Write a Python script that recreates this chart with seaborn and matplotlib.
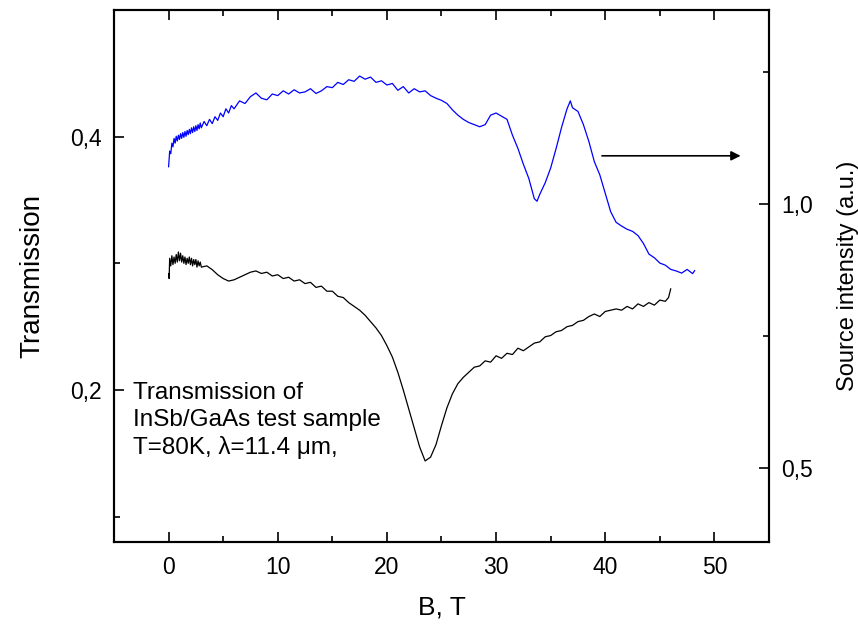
import numpy as np
import pandas as pd
import matplotlib
matplotlib.use("Agg")
import matplotlib.pyplot as plt
from matplotlib.ticker import FixedLocator, FuncFormatter
import seaborn as sns

# ---------------- data ----------------
# Transmission (left axis), black curve
b_trans = [0.0, 0.05, 0.1, 0.2, 0.3, 0.4, 0.5, 0.6, 0.7, 0.8, 0.9, 1.0, 1.1, 1.2, 1.3, 1.4,
           1.5, 1.6, 1.7, 1.8, 1.9, 2.0, 2.1, 2.2, 2.3, 2.4, 2.5, 2.6, 2.7, 2.8, 2.9, 3.0,
           3.5, 4.0, 4.5, 5.0, 5.5, 6.0, 6.5, 7.0, 7.5, 8.0, 8.5, 9.0, 9.5, 10.0, 10.5, 11.0,
           11.5, 12.0, 12.5, 13.0, 13.5, 14.0, 14.5, 15.0, 15.5, 16.0, 16.5, 17.0, 17.5, 18.0,
           18.5, 19.0, 19.5, 20.0, 20.5, 21.0, 21.5, 22.0, 22.5, 23.0, 23.5, 24.0, 24.5, 25.0,
           25.5, 26.0, 26.5, 27.0, 27.5, 28.0, 28.5, 29.0, 29.5, 30.0, 30.5, 31.0, 31.5, 32.0,
           32.5, 33.0, 33.5, 34.0, 34.5, 35.0, 35.5, 36.0, 36.5, 37.0, 37.5, 38.0, 38.5, 39.0,
           39.5, 40.0, 40.5, 41.0, 41.5, 42.0, 42.5, 43.0, 43.5, 44.0, 44.5, 45.0, 45.5, 45.8, 46.0]
transmission = [0.292, 0.288, 0.304, 0.298, 0.306, 0.299, 0.305, 0.300, 0.307, 0.301, 0.309, 0.302,
                0.308, 0.301, 0.306, 0.300, 0.305, 0.299, 0.304, 0.300, 0.305, 0.299, 0.304, 0.298,
                0.303, 0.299, 0.303, 0.297, 0.302, 0.298, 0.301, 0.297,
                0.298, 0.295, 0.291, 0.288, 0.286, 0.287, 0.289, 0.291, 0.293, 0.294, 0.292, 0.293,
                0.290, 0.291, 0.288, 0.289, 0.286, 0.287, 0.284, 0.285, 0.281, 0.282, 0.278, 0.278,
                0.274, 0.273, 0.269, 0.266, 0.263, 0.259, 0.254, 0.249, 0.243, 0.235, 0.226, 0.214,
                0.200, 0.185, 0.170, 0.155, 0.144, 0.147, 0.157, 0.172, 0.186, 0.197, 0.205, 0.210,
                0.214, 0.218, 0.219, 0.223, 0.222, 0.227, 0.225, 0.229, 0.228, 0.233, 0.231, 0.234,
                0.237, 0.238, 0.242, 0.243, 0.246, 0.247, 0.250, 0.251, 0.254, 0.255, 0.258, 0.260,
                0.258, 0.262, 0.263, 0.264, 0.263, 0.266, 0.264, 0.268, 0.266, 0.269, 0.267, 0.271,
                0.270, 0.273, 0.280]

# Source intensity (right axis), blue curve
b_source = [0.0, 0.05, 0.1, 0.2, 0.3, 0.4, 0.5, 0.6, 0.7, 0.8, 0.9, 1.0, 1.1, 1.2, 1.3, 1.4,
            1.5, 1.6, 1.7, 1.8, 1.9, 2.0, 2.1, 2.2, 2.3, 2.4, 2.5, 2.6, 2.7, 2.8, 2.9, 3.0,
            3.25, 3.5, 3.75, 4.0, 4.25, 4.5, 4.75, 5.0, 5.25, 5.5, 5.75, 6.0, 6.5, 7.0, 7.5,
            8.0, 8.5, 9.0, 9.5, 10.0, 10.5, 11.0, 11.5, 12.0, 12.5, 13.0, 13.5, 14.0, 14.5,
            15.0, 15.5, 16.0, 16.5, 17.0, 17.5, 18.0, 18.5, 19.0, 19.5, 20.0, 20.5, 21.0, 21.5,
            22.0, 22.5, 23.0, 23.5, 24.0, 24.5, 25.0, 25.5, 26.0, 26.5, 27.0, 27.5, 28.0, 28.5,
            29.0, 29.5, 30.0, 30.5, 31.0, 31.5, 32.0, 32.5, 33.0, 33.5, 33.75, 34.0, 34.5, 35.0,
            35.5, 36.0, 36.5, 36.8, 37.0, 37.5, 38.0, 38.5, 39.0, 39.5, 40.0, 40.5, 41.0, 41.5,
            42.0, 42.5, 43.0, 43.5, 44.0, 44.5, 45.0, 45.5, 46.0, 46.5, 47.0, 47.5, 48.0, 48.2]
source = [1.070, 1.085, 1.100, 1.095, 1.115, 1.108, 1.124, 1.115, 1.128, 1.119, 1.130, 1.122,
          1.133, 1.124, 1.135, 1.126, 1.137, 1.128, 1.139, 1.131, 1.141, 1.133, 1.144, 1.135,
          1.146, 1.137, 1.148, 1.139, 1.150, 1.142, 1.153, 1.144,
          1.156, 1.148, 1.160, 1.152, 1.165, 1.158, 1.172, 1.165, 1.180, 1.172, 1.186, 1.180,
          1.195, 1.190, 1.203, 1.210, 1.200, 1.197, 1.208, 1.205, 1.214, 1.208, 1.216, 1.210,
          1.212, 1.218, 1.209, 1.214, 1.222, 1.220, 1.230, 1.226, 1.235, 1.232, 1.242, 1.236,
          1.240, 1.230, 1.233, 1.225, 1.228, 1.215, 1.222, 1.210, 1.218, 1.212, 1.214, 1.205,
          1.200, 1.196, 1.190, 1.178, 1.168, 1.160, 1.154, 1.150, 1.146, 1.150, 1.168, 1.172,
          1.166, 1.160, 1.130, 1.105, 1.075, 1.048, 1.010, 1.005, 1.018, 1.040, 1.068, 1.105,
          1.145, 1.180, 1.195, 1.182, 1.175, 1.150, 1.118, 1.080, 1.055, 1.020, 0.985, 0.965,
          0.958, 0.952, 0.948, 0.940, 0.925, 0.905, 0.898, 0.888, 0.884, 0.876, 0.873, 0.869,
          0.876, 0.868, 0.874]

x_ticks = [0, 10, 20, 30, 40, 50]
left_ticks = [0.2, 0.4]
right_ticks = [0.5, 1.0]
annotation = "Transmission of\nInSb/GaAs test sample\nT=80K, \u03bb=11.4 \u03bcm,"

# ---------------- style ----------------
sns.set_theme(style="ticks")
plt.rcParams["font.family"] = ["Liberation Sans", "DejaVu Sans"]
plt.rcParams["text.color"] = "black"
plt.rcParams["axes.labelcolor"] = "black"
plt.rcParams["xtick.color"] = "black"
plt.rcParams["ytick.color"] = "black"
plt.rcParams["xtick.labelcolor"] = "black"
plt.rcParams["ytick.labelcolor"] = "black"

fig = plt.figure(figsize=(8.58, 6.24), dpi=100)
ax = fig.add_axes([114 / 858, 1 - 542 / 624, (769 - 114) / 858, (542 - 10) / 624])
ax2 = ax.twinx()

df_t = pd.DataFrame({"B": b_trans, "T": transmission})
df_s = pd.DataFrame({"B": b_source, "S": source})
sns.lineplot(data=df_t, x="B", y="T", ax=ax, color="black", lw=0.9, estimator=None, sort=False)
sns.lineplot(data=df_s, x="B", y="S", ax=ax2, color="#0000ff", lw=0.9, estimator=None, sort=False)

ax.set_xlim(-5, 55)
ax.set_ylim(0.08, 0.5)
ax2.set_ylim(0.36, 1.367)

comma = FuncFormatter(lambda v, p: f"{v:.1f}".replace(".", ","))
ax.xaxis.set_major_locator(FixedLocator(x_ticks))
ax.xaxis.set_minor_locator(FixedLocator([5, 15, 25, 35, 45]))
ax.yaxis.set_major_locator(FixedLocator(left_ticks))
ax.yaxis.set_minor_locator(FixedLocator([0.1, 0.3]))
ax.yaxis.set_major_formatter(comma)
ax2.yaxis.set_major_locator(FixedLocator(right_ticks))
ax2.yaxis.set_minor_locator(FixedLocator([0.75, 1.25]))
ax2.yaxis.set_major_formatter(comma)

for a in (ax, ax2):
    for s in a.spines.values():
        s.set_linewidth(1.5)
        s.set_color("black")
        s.set_visible(True)
    a.grid(False)

ax.tick_params(axis="x", which="both", direction="in", top=True, bottom=True,
               labelsize=16.5, pad=10, color="black", labelcolor="black")
ax.tick_params(axis="y", which="both", direction="in", left=True, right=False,
               labelsize=16.5, pad=9, color="black", labelcolor="black")
ax.tick_params(which="major", length=7, width=1.2)
ax.tick_params(which="minor", length=4.5, width=1.2)
ax2.tick_params(axis="y", which="both", direction="in", right=True, left=False,
                labelsize=16.5, pad=9, color="black", labelcolor="black")
ax2.tick_params(which="major", length=7, width=1.2)
ax2.tick_params(which="minor", length=4.5, width=1.2)

ax.set_xlabel("B, T", fontsize=19, labelpad=12, color="black")
ax.set_ylabel("Transmission", fontsize=20, labelpad=18, color="black")
ax2.set_ylabel("Source intensity (a.u.)", fontsize=17, labelpad=17, color="black")

ax.text(0.029, 0.30, annotation, transform=ax.transAxes, fontsize=17.5,
        va="top", ha="left", linespacing=1.27, color="black")

ax2.annotate("", xy=(52.4, 1.091), xytext=(39.7, 1.091),
             arrowprops=dict(arrowstyle="-|>", color="black", lw=1.2,
                             mutation_scale=14, shrinkA=0, shrinkB=0))

fig.savefig("out.png", dpi=100)
